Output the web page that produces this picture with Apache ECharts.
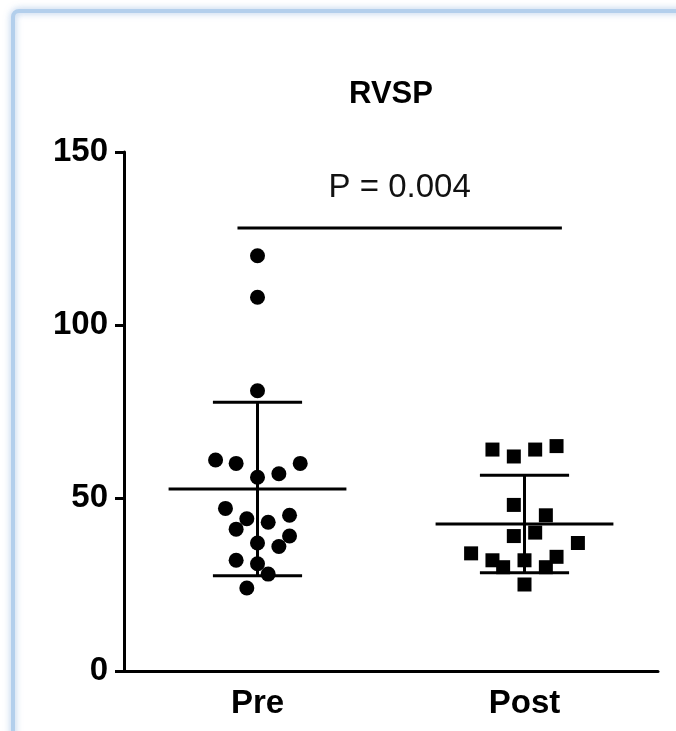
<!DOCTYPE html>
<html>
<head>
<meta charset="utf-8">
<script src="https://cdn.jsdelivr.net/npm/echarts@6/dist/echarts.min.js"></script>
<style>
  html, body { margin: 0; padding: 0; background: #ffffff; }
  #chart { width: 676px; height: 731px; }
</style>
</head>
<body>
<div id="chart"></div>
<script>
// ---------------- data ----------------
const chartTitle = 'RVSP';
const categories = ['Pre', 'Post'];
const preValues  = [120, 108, 81, 61, 60, 60, 57, 56, 47, 44, 45, 43, 41, 39, 37, 36, 32, 31, 28, 24];
const preJitter  = [0, 0, 0, -0.157, -0.08, 0.16, 0.08, 0, -0.12, -0.04, 0.12, 0.04, -0.08, 0.12, 0, 0.08, -0.08, 0, 0.04, -0.04];
const postValues = [64, 62, 64, 65, 48, 45, 39, 40, 37, 34, 32, 32, 33, 30, 30, 25];
const postJitter = [-0.12, -0.04, 0.04, 0.12, -0.04, 0.08, -0.04, 0.04, 0.2, -0.2, -0.12, 0, 0.12, -0.08, 0.08, 0];
const meanValues = [52.6, 42.5];
const sdValues   = [25.1, 14.1];
const yMin = 0, yMax = 150, yInterval = 50;
const pLabel = 'P = 0.004';
const sigLineY = 128;
const sigLineX = [-0.075, 1.14];

// ---------------- style constants ----------------
const MEAN_HALF = 0.333;
const CAP_HALF = 0.167;
const LINE_W = 3;
const FONT = '"Liberation Sans", Arial, Helvetica, sans-serif';

const chart = echarts.init(document.getElementById('chart'), null, { renderer: 'canvas' });

function errorBarItem(params, api) {
  const i = api.value(0), m = api.value(1), sd = api.value(2);
  const pt = (x, y) => api.coord([x, y]);
  const a = pt(i - MEAN_HALF, m), b = pt(i + MEAN_HALF, m);
  const t = pt(i, m + sd), bo = pt(i, m - sd);
  const tl = pt(i - CAP_HALF, m + sd), tr = pt(i + CAP_HALF, m + sd);
  const bl = pt(i - CAP_HALF, m - sd), br = pt(i + CAP_HALF, m - sd);
  const st = { stroke: '#000', lineWidth: LINE_W };
  return {
    type: 'group',
    children: [
      { type: 'line', shape: { x1: a[0], y1: a[1], x2: b[0], y2: b[1] }, style: st },
      { type: 'line', shape: { x1: t[0], y1: t[1], x2: bo[0], y2: bo[1] }, style: st },
      { type: 'line', shape: { x1: tl[0], y1: tl[1], x2: tr[0], y2: tr[1] }, style: st },
      { type: 'line', shape: { x1: bl[0], y1: bl[1], x2: br[0], y2: br[1] }, style: st }
    ]
  };
}

function sigItem(params, api) {
  const l = api.coord([api.value(0), api.value(2)]);
  const r = api.coord([api.value(1), api.value(2)]);
  return {
    type: 'group',
    children: [
      { type: 'line', shape: { x1: l[0], y1: l[1], x2: r[0], y2: r[1] }, style: { stroke: '#000', lineWidth: LINE_W } },
      { type: 'text', x: (l[0] + r[0]) / 2, y: l[1] - 40,
        style: { text: pLabel, fill: '#111', font: '33px ' + FONT, align: 'center', verticalAlign: 'middle' } }
    ]
  };
}

const option = {
  backgroundColor: '#ffffff',
  animation: false,
  graphic: [
    { type: 'rect', z: 0,
      shape: { x: 13, y: 11, width: 720, height: 780, r: 6 },
      style: { fill: 'transparent', stroke: '#b3cfec', lineWidth: 4, shadowBlur: 7, shadowColor: 'rgba(130,170,220,0.7)' } },
    { type: 'text', x: 391, y: 94,
      style: { text: chartTitle, fill: '#000', font: 'bold 31px ' + FONT, align: 'center', verticalAlign: 'middle' } }
  ],
  grid: { left: 124, right: 18, top: 152, bottom: 60, containLabel: false },
  xAxis: [
    {
      type: 'category', data: categories, boundaryGap: true,
      axisLine: { onZero: false, lineStyle: { color: '#000', width: LINE_W } },
      axisTick: { alignWithLabel: true, length: 8, lineStyle: { color: '#000', width: LINE_W } },
      axisLabel: { color: '#000', fontFamily: FONT, fontWeight: 'bold', fontSize: 33, margin: 16 },
      splitLine: { show: false }
    },
    { type: 'value', min: -0.5, max: 1.5, show: false }
  ],
  yAxis: {
    type: 'value', min: yMin, max: yMax, interval: yInterval,
    axisLine: { show: true, onZero: false, lineStyle: { color: '#000', width: LINE_W } },
    axisTick: { show: true, length: 9, lineStyle: { color: '#000', width: LINE_W } },
    axisLabel: { color: '#000', fontFamily: FONT, fontWeight: 'bold', fontSize: 33, margin: 16 },
    splitLine: { show: false }
  },
  series: [
    { type: 'scatter', xAxisIndex: 1, symbol: 'circle', symbolSize: 15,
      itemStyle: { color: '#000', opacity: 1 },
      data: preValues.map((v, i) => [0 + preJitter[i], v]) },
    { type: 'scatter', xAxisIndex: 1, symbol: 'rect', symbolSize: 14,
      itemStyle: { color: '#000', opacity: 1 },
      data: postValues.map((v, i) => [1 + postJitter[i], v]) },
    { type: 'custom', xAxisIndex: 1, clip: false, renderItem: errorBarItem,
      data: meanValues.map((m, i) => [i, m, sdValues[i]]) },
    { type: 'custom', xAxisIndex: 1, clip: false, renderItem: sigItem,
      data: [[sigLineX[0], sigLineX[1], sigLineY]] }
  ]
};
chart.setOption(option);
</script>
</body>
</html>
